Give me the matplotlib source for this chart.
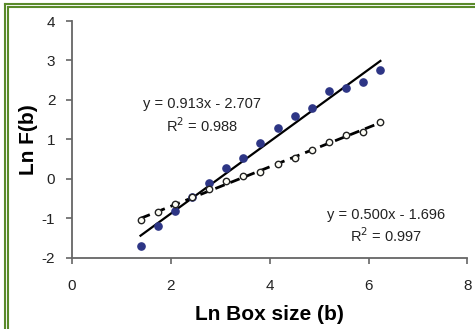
import numpy as np
import matplotlib
matplotlib.use("Agg")
import matplotlib.pyplot as plt
from matplotlib.lines import Line2D

plt.rcParams['font.family'] = ['Liberation Sans', 'DejaVu Sans']
plt.rcParams['axes.unicode_minus'] = False

# ln box size (same for both series)
ln_box = [1.386, 1.733, 2.079, 2.426, 2.773, 3.119, 3.466, 3.812,
          4.159, 4.505, 4.852, 5.199, 5.545, 5.892, 6.238]
# filled series
ln_f1 = [-1.71, -1.20, -0.82, -0.47, -0.11, 0.27, 0.54, 0.90,
         1.29, 1.59, 1.79, 2.22, 2.30, 2.45, 2.76]
# open series
ln_f2 = [-1.05, -0.83, -0.63, -0.46, -0.26, -0.05, 0.06, 0.18,
         0.37, 0.54, 0.73, 0.93, 1.12, 1.18, 1.45]

fit1 = (0.913, -2.707, 0.988)
fit2 = (0.500, -1.696, 0.997)

fig = plt.figure(figsize=(4.75, 3.29), dpi=100)
ax = fig.add_axes([0.1516, 0.2167, 0.8326, 0.7194])

x = np.array(ln_box)
xl = np.array([x.min(), x.max()])

ax.plot(xl, fit1[0] * xl + fit1[1], color='black', lw=1.6, zorder=2)
ax.plot(xl, fit2[0] * xl + fit2[1], color='black', lw=2.0,
        linestyle=(0, (3.6, 2.2)), zorder=2)
ax.plot(x, ln_f1, 'o', ms=5.2, color='#2d3585', mec='#2d3585', zorder=3)
ax.plot(x, ln_f2, 'o', ms=4.6, mfc='#fdfdf5', mec='#222222', mew=1.0, zorder=3)

fs = 10.5
ax.text(2.63, 1.89, 'y = %.3fx - %.3f' % (fit1[0], -fit1[1]), ha='center', va='center',
        fontsize=fs, color='#222222')
ax.text(2.63, 1.35, 'R$^2$ = %.3f' % fit1[2], ha='center', va='center',
        fontsize=fs, color='#222222')
ax.text(6.35, -0.92, 'y = %.3fx - %.3f' % (fit2[0], -fit2[1]), ha='center', va='center',
        fontsize=fs, color='#222222')
ax.text(6.35, -1.45, 'R$^2$ = %.3f' % fit2[2], ha='center', va='center',
        fontsize=fs, color='#222222')

ax.set_xlim(0, 8)
ax.set_ylim(-2, 4)
ax.set_xticks([0, 2, 4, 6, 8])
ax.set_yticks([-2, -1, 0, 1, 2, 3, 4])
for s in ['top', 'right']:
    ax.spines[s].set_visible(False)
for s in ['left', 'bottom']:
    ax.spines[s].set_color('#666666')
    ax.spines[s].set_linewidth(1.3)
ax.tick_params(axis='both', direction='out', length=4, width=1.2, color='#666666',
               labelsize=11, labelcolor='#222222')
ax.tick_params(axis='x', pad=11)
ax.tick_params(axis='y', pad=8)
ax.set_xlabel('Ln Box size (b)', fontsize=15, fontweight='bold', labelpad=9)
ax.set_ylabel('Ln F(b)', fontsize=15, fontweight='bold', labelpad=3)

# green double frame
g = '#5a8a2a'
W, H = 475.0, 329.0
for off in (5, 8):
    fig.add_artist(Line2D([off / W, off / W], [0, 1 - (off - 1) / H], color=g, lw=1.5))
    fig.add_artist(Line2D([off / W, 1], [1 - (off - 1) / H, 1 - (off - 1) / H], color=g, lw=1.5))

fig.savefig('out.png', dpi=100)
